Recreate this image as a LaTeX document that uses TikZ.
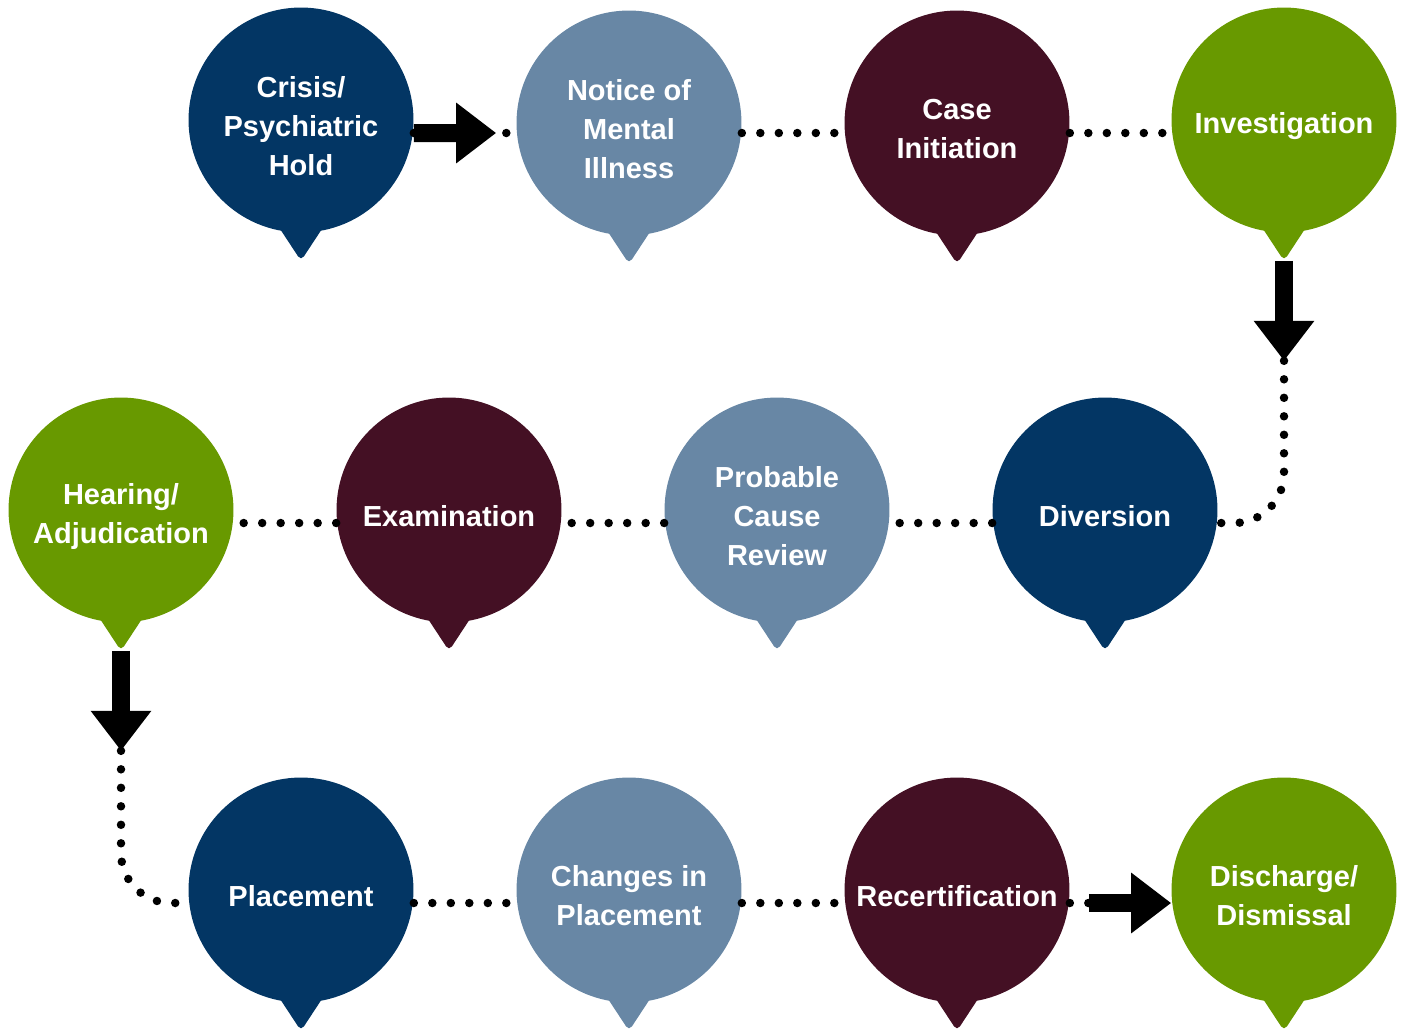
\documentclass[tikz,border=0pt]{standalone}
\usepackage{fontspec}
\setmainfont{Liberation Sans}
\usetikzlibrary{arrows.meta}
\definecolor{stageblue}{RGB}{3,54,100}
\definecolor{stageslate}{RGB}{104,135,165}
\definecolor{stagewine}{RGB}{68,16,36}
\definecolor{stagegreen}{RGB}{104,153,0}
\tikzset{
  stage/.style={
    circle, fill=#1, minimum size=4.5cm, inner sep=0pt,
    append after command={
      \pgfextra{
        \fill[#1, rounded corners=3pt] ([xshift=-0.5cm,yshift=0.2cm]\tikzlastnode.south)
          -- ([yshift=-0.56cm]\tikzlastnode.south)
          -- ([xshift=0.5cm,yshift=0.2cm]\tikzlastnode.south) -- cycle;
      }
    }
  },
  stage label/.style={
    text=white, align=center, yshift=-0.12cm, inner sep=0pt,
    font=\bfseries\fontsize{16.5pt}{22.2pt}\selectfont
  },
  dot link/.style={line width=0.17cm, line cap=round, dash pattern=on 0pt off 0.37cm},
  block arrow/.style={line width=0.36cm, -{Triangle[length=0.8cm,width=1.16cm]}}
}

\begin{document}
\begin{tikzpicture}[x=0.02cm, y=-0.02cm]
  \useasboundingbox (0,0) rectangle (1406,1032);

  % first row
  \node[stage=stageblue, label={[stage label]center:{Crisis/\\Psychiatric\\Hold}}] (crisis) at (301,120) {};
  \node[stage=stageslate, label={[stage label]center:{Notice of\\Mental\\Illness}}] (notice) at (629,123) {};
  \node[stage=stagewine, label={[stage label]center:{Case\\Initiation}}] (case) at (957,123) {};
  \node[stage=stagegreen, label={[stage label]center:Investigation}] (investigation) at (1284,120) {};

  % second row
  \node[stage=stagegreen, label={[stage label]center:{Hearing/\\Adjudication}}] (hearing) at (121,510) {};
  \node[stage=stagewine, label={[stage label]center:Examination}] (examination) at (449,510) {};
  \node[stage=stageslate, label={[stage label]center:{Probable\\Cause\\Review}}] (probable) at (777,510) {};
  \node[stage=stageblue, label={[stage label]center:Diversion}] (diversion) at (1105,510) {};

  % third row
  \node[stage=stageblue, label={[stage label]center:Placement}] (placement) at (301,890) {};
  \node[stage=stageslate, label={[stage label]center:{Changes in\\Placement}}] (changes) at (629,890) {};
  \node[stage=stagewine, label={[stage label]center:Recertification}] (recert) at (957,890) {};
  \node[stage=stagegreen, label={[stage label]center:{Discharge/\\Dismissal}}] (discharge) at (1284,890) {};

  % links, first row
  \draw[dot link] ([yshift=-0.26cm]crisis.east) -- ([yshift=-0.2cm]notice.west);
  \draw[block arrow] ([yshift=-0.26cm]crisis.east) -- ([xshift=-0.4cm,yshift=-0.2cm]notice.west);
  \draw[dot link] ([yshift=-0.2cm]notice.east) -- ([yshift=-0.2cm]case.west);
  \draw[dot link] ([yshift=-0.2cm]case.east) -- ([yshift=-0.26cm]investigation.west);

  % down to the second row
  \coordinate (invtip) at ([yshift=-0.56cm]investigation.south);
  \coordinate (divturn) at ([yshift=-2cm]invtip);
  \draw[dot link, rounded corners=1cm] (divturn) |- ([yshift=-0.26cm]diversion.east);
  \draw[block arrow] (invtip) -- (divturn);

  % links, second row
  \draw[dot link] ([yshift=-0.26cm]diversion.west) -- ([yshift=-0.26cm]probable.east);
  \draw[dot link] ([yshift=-0.26cm]probable.west) -- ([yshift=-0.26cm]examination.east);
  \draw[dot link] ([yshift=-0.26cm]examination.west) -- ([yshift=-0.26cm]hearing.east);

  % down to the third row
  \coordinate (heartip) at ([yshift=-0.56cm]hearing.south);
  \coordinate (placeturn) at ([yshift=-2cm]heartip);
  \draw[dot link, rounded corners=1cm] (placeturn) |- ([yshift=-0.26cm]placement.west);
  \draw[block arrow] (heartip) -- (placeturn);

  % links, third row
  \draw[dot link] ([yshift=-0.26cm]placement.east) -- ([yshift=-0.26cm]changes.west);
  \draw[dot link] ([yshift=-0.26cm]changes.east) -- ([yshift=-0.26cm]recert.west);
  \draw[dot link] ([yshift=-0.26cm]recert.east) -- ([yshift=-0.26cm]discharge.west);
  \draw[block arrow] ([xshift=0.38cm,yshift=-0.26cm]recert.east) -- ([yshift=-0.26cm]discharge.west);
\end{tikzpicture}
\end{document}
